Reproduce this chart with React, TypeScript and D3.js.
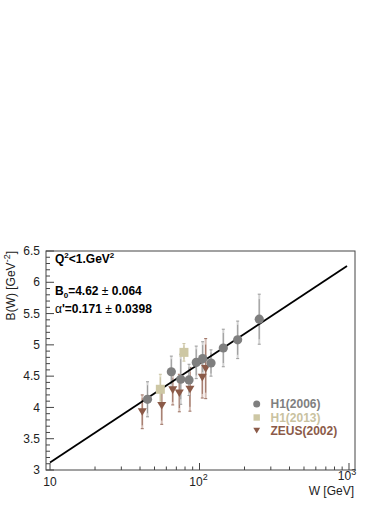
import * as d3 from 'd3';

// H1 (2006)
const h1W = [44.9, 64.8, 74.9, 85.1, 95.1, 105, 119.4, 144.3, 180, 251];
const h1B = [4.13, 4.57, 4.45, 4.44, 4.72, 4.78, 4.71, 4.95, 5.08, 5.41];
const h1Err = [0.28, 0.25, 0.4, 0.25, 0.26, 0.27, 0.21, 0.3, 0.3, 0.4];

// H1 (2013)
const h1nW = [54.7, 78.7];
const h1nB = [4.29, 4.88];
const h1nErr = [0.24, 0.14];

// ZEUS (2002)
const zeusW = [41.4, 55.9, 66.2, 73.3, 86.3, 104.4, 110];
const zeusB = [3.93, 4.03, 4.28, 4.23, 4.29, 4.48, 4.62];
const zeusErr = [0.27, 0.3, 0.24, 0.3, 0.35, 0.33, 0.48];

// fit line end points
const fitW = [10, 970];
const fitB = [3.12, 6.26];

const legendItems = ['H1(2006)', 'H1(2013)', 'ZEUS(2002)'];

const W = 390;
const H = 505;
const frame = { left: 46, right: 355, top: 251, bottom: 470 };

const GRAY = '#7f7f7f';
const BEIGE = '#cdc7a4';
const BROWN = '#8b5a48';
const font = '"Liberation Sans", Arial, Helvetica, sans-serif';

export default function App() {
  const x = d3.scaleLog().domain([9.4, 1097]).range([frame.left, frame.right]);
  const y = d3.scaleLinear().domain([3, 6.5]).range([frame.bottom, frame.top]);

  const yMinor = y.ticks(35);
  const yMajor = y.ticks(7);
  const xTicks = x.ticks();
  const isDecade = (v: number) => Math.abs(Math.log10(v) - Math.round(Math.log10(v))) < 1e-6;

  const line = d3.line<number>()
    .x((_, i) => x(fitW[i]))
    .y(d => y(d));

  const errBar = (w: number, b: number, e: number, light: string, dark: string, key: string) => {
    const cx = x(w);
    return (
      <g key={key}>
        <line x1={cx} x2={cx} y1={y(b - e)} y2={y(b + e)} stroke={light} strokeWidth={2} />
        <line x1={cx} x2={cx} y1={y(b - e * 0.8)} y2={y(b + e * 0.8)} stroke={dark} strokeWidth={1} />
        <line x1={cx - 1.5} x2={cx + 1.5} y1={y(b - e)} y2={y(b - e)} stroke={dark} strokeWidth={1} />
        <line x1={cx - 1.5} x2={cx + 1.5} y1={y(b + e)} y2={y(b + e)} stroke={dark} strokeWidth={1} />
      </g>
    );
  };

  const tri = (cx: number, cy: number, s: number) =>
    `M${cx - s},${cy - s * 0.8} L${cx + s},${cy - s * 0.8} L${cx},${cy + s * 0.9} Z`;

  const legendY = [404, 417.5, 430.5];

  return (
    <svg
      width={W}
      height={H}
      style={{ position: 'absolute', left: 0, top: 0, display: 'block', background: '#fff' }}
      fontFamily={font}
    >
      {/* y ticks */}
      {yMinor.map(v => {
        const major = yMajor.some(m => Math.abs(m - v) < 1e-6);
        return (
          <line key={'yt' + v} x1={frame.left} x2={frame.left + (major ? 8 : 4)}
            y1={y(v)} y2={y(v)} stroke="#444" strokeWidth={1} />
        );
      })}
      {yMajor.map(v => (
        <text key={'yl' + v} x={40} y={y(v)} dy="0.35em" textAnchor="end" fontSize={12} fill="#222">
          {v}
        </text>
      ))}

      {/* x ticks */}
      {xTicks.map(v => (
        <line key={'xt' + v} x1={x(v)} x2={x(v)} y1={frame.bottom}
          y2={frame.bottom - (isDecade(v) ? 7 : 3.5)} stroke="#444" strokeWidth={1} />
      ))}
      <text x={x(10)} y={486} textAnchor="middle" fontSize={12} fill="#222">10</text>
      <text x={x(100) - 1} y={486} textAnchor="middle" fontSize={12} fill="#222">
        10<tspan dy={-6} fontSize={9}>2</tspan>
      </text>
      <text x={x(1000) - 2} y={480} textAnchor="middle" fontSize={12} fill="#222">
        10<tspan dy={-5} fontSize={9}>3</tspan>
      </text>

      {/* frame */}
      <rect x={frame.left} y={frame.top} width={frame.right - frame.left}
        height={frame.bottom - frame.top} fill="none" stroke="#444" strokeWidth={1} />

      {/* axis titles */}
      <text transform={`translate(15,${frame.top}) rotate(-90)`} textAnchor="end" fontSize={12} fill="#222">
        B(W) [GeV<tspan dy={-5} fontSize={9}>-2</tspan><tspan dy={5}>]</tspan>
      </text>
      <text x={354} y={495} textAnchor="end" fontSize={12} fill="#222">W [GeV]</text>

      {/* error bars */}
      {zeusW.map((w, i) => errBar(w, zeusB[i], zeusErr[i], '#d6bfb7', '#9a6e5f', 'ze' + i))}
      {h1W.map((w, i) => errBar(w, h1B[i], h1Err[i], '#d2d2d2', '#9a9a9a', 'he' + i))}
      {h1nW.map((w, i) => errBar(w, h1nB[i], h1nErr[i], '#e4e0cc', '#c8c1a0', 'ne' + i))}

      {/* fit */}
      <path d={line(fitB) || ''} fill="none" stroke="#000" strokeWidth={1.8} />

      {/* markers */}
      {zeusW.map((w, i) => (
        <path key={'zm' + i} d={tri(x(w), y(zeusB[i]), 4.5)} fill={BROWN} />
      ))}
      {h1nW.map((w, i) => (
        <rect key={'nm' + i} x={x(w) - 4.5} y={y(h1nB[i]) - 4.5} width={9} height={9} fill={BEIGE} />
      ))}
      {h1W.map((w, i) => (
        <circle key={'hm' + i} cx={x(w)} cy={y(h1B[i])} r={4.6} fill={GRAY} />
      ))}

      {/* annotations */}
      <text x={55} y={263} fontSize={12} fontWeight="bold" fill="#000">
        Q<tspan dy={-5} fontSize={8}>2</tspan><tspan dy={5}>&lt;1.GeV</tspan>
        <tspan dy={-5} fontSize={8}>2</tspan>
      </text>
      <text x={55} y={295} fontSize={12} fontWeight="bold" fill="#000">
        B<tspan dy={3} fontSize={8}>0</tspan><tspan dy={-3}>=4.62 </tspan>
        <tspan fontWeight="normal">±</tspan> 0.064
      </text>
      <text x={55} y={313} fontSize={12} fontWeight="bold" fill="#000">
        <tspan fontWeight="normal">α</tspan>'=0.171 <tspan fontWeight="normal">±</tspan> 0.0398
      </text>

      {/* legend */}
      <circle cx={256.7} cy={legendY[0]} r={3.5} fill={GRAY} />
      <rect x={253.5} y={legendY[1] - 3.2} width={6.4} height={6.4} fill={BEIGE} />
      <path d={tri(256.7, legendY[2], 3.4)} fill={BROWN} />
      {legendItems.map((t, i) => (
        <text key={t} x={270.5} y={legendY[i]} dy="0.36em" fontSize={12} fontWeight="bold"
          fill={[GRAY, '#c9c2a0', BROWN][i]}>
          {t}
        </text>
      ))}
    </svg>
  );
}
